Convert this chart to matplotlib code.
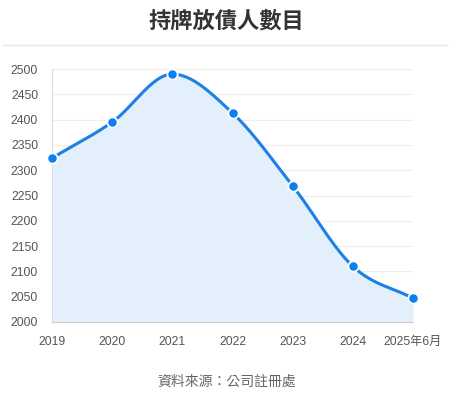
import numpy as np
import matplotlib
matplotlib.use("Agg")
import matplotlib.pyplot as plt

years = ["2019", "2020", "2021", "2022", "2023", "2024", "2025年6月"]
counts = [2324, 2395, 2490, 2413, 2269, 2110, 2047]

plt.rcParams['font.family'] = ['Liberation Sans', 'Noto Sans CJK TC']

W, H = 453, 397
fig = plt.figure(figsize=(W / 100, H / 100), dpi=100)
ax = fig.add_axes([52 / W, (H - 322) / H, (413 - 52) / W, (322 - 69) / H])


def monotone_curve(xs, ys, steps=30):
    # monotone cubic (Fritsch-Carlson) as bezier segments
    xs = np.asarray(xs, float)
    ys = np.asarray(ys, float)
    n = len(xs)
    d = np.diff(ys) / np.diff(xs)
    m = np.zeros(n)
    m[0], m[-1] = d[0], d[-1]
    for i in range(1, n - 1):
        if d[i - 1] * d[i] <= 0:
            m[i] = 0
        else:
            m[i] = (d[i - 1] + d[i]) / 2
    for i in range(n - 1):
        if d[i] == 0:
            m[i] = m[i + 1] = 0
            continue
        a = m[i] / d[i]
        b = m[i + 1] / d[i]
        s = a * a + b * b
        if s > 9:
            tau = 3 / np.sqrt(s)
            m[i] = tau * a * d[i]
            m[i + 1] = tau * b * d[i]
    t = np.linspace(0, 1, steps)
    ox, oy = [], []
    for i in range(n - 1):
        dx = (xs[i + 1] - xs[i]) / 3
        p0 = (xs[i], ys[i])
        p1 = (xs[i] + dx, ys[i] + m[i] * dx)
        p2 = (xs[i + 1] - dx, ys[i + 1] - m[i + 1] * dx)
        p3 = (xs[i + 1], ys[i + 1])
        bx = (1 - t) ** 3 * p0[0] + 3 * (1 - t) ** 2 * t * p1[0] + 3 * (1 - t) * t ** 2 * p2[0] + t ** 3 * p3[0]
        by = (1 - t) ** 3 * p0[1] + 3 * (1 - t) ** 2 * t * p1[1] + 3 * (1 - t) * t ** 2 * p2[1] + t ** 3 * p3[1]
        if i > 0:
            bx, by = bx[1:], by[1:]
        ox.append(bx)
        oy.append(by)
    return np.concatenate(ox), np.concatenate(oy)


x = np.arange(len(years))
cx, cy = monotone_curve(x, counts)

ax.fill_between(cx, cy, 2000, color='#e3f0fc', zorder=1, linewidth=0)
ax.plot(cx, cy, color='#1e80e6', linewidth=2.2, zorder=3, solid_capstyle='round')
ax.scatter(x, counts, s=55, color='#0d7ff0', edgecolors='white', linewidths=1.3, zorder=4, clip_on=False)

ax.set_xlim(0, len(years) - 1)
ax.set_ylim(2000, 2500)
ax.set_yticks(np.arange(2000, 2501, 50))
ax.set_xticks(x)
ax.set_xticklabels(years)
ax.grid(axis='y', color='#eeeeee', linewidth=0.8)
ax.set_axisbelow(True)
for side in ['top', 'right']:
    ax.spines[side].set_visible(False)
ax.spines['left'].set_color('#dddddd')
ax.spines['bottom'].set_color('#cccccc')
ax.tick_params(axis='both', length=0, labelsize=8.8, colors='#555555')
ax.tick_params(axis='y', pad=10)
ax.tick_params(axis='x', pad=10)

fig.text(0.5, 1 - 22 / H, '持牌放債人數目', ha='center', va='center',
         fontsize=16, fontweight='bold', color='#333333')
fig.add_artist(plt.Line2D([3 / W, 447 / W], [1 - 45 / H, 1 - 45 / H], color='#e6e6e6', linewidth=1))
fig.text(0.5, 1 - 382 / H, '資料來源：公司註冊處', ha='center', va='center',
         fontsize=10, color='#666666')

fig.savefig('out.png', dpi=100)
